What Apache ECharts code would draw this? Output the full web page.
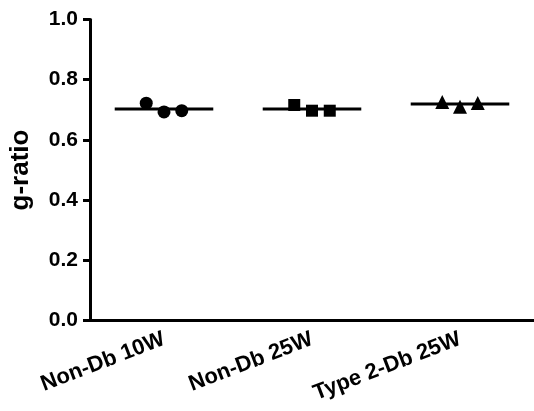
<!DOCTYPE html>
<html>
<head>
<meta charset="utf-8">
<script src="https://cdn.jsdelivr.net/npm/echarts@6/dist/echarts.min.js"></script>
<style>
  html, body { margin: 0; padding: 0; background: #fff; }
  #chart { width: 534px; height: 411px; }
</style>
</head>
<body>
<div id="chart"></div>
<script>
// groups and values
let groups = ['Non-Db 10W', 'Non-Db 25W', 'Type 2-Db 25W'];
let symbols = ['circle', 'rect', 'triangle'];
let symbolSizes = [13, 12, 14];
let nonDb10W = [0.722, 0.693, 0.697];
let nonDb25W = [0.716, 0.697, 0.697];
let type2Db25W = [0.726, 0.710, 0.723];
let means = [0.703, 0.703, 0.719];
// horizontal spread of the dots around each group's center
let jitter = [-0.12, 0, 0.12];

let chartDom = document.getElementById('chart');
let chart = echarts.init(chartDom);

let values = [nonDb10W, nonDb25W, type2Db25W];
let font = '"Liberation Sans", Arial, Helvetica, sans-serif';
let series = [];

values.forEach(function (vals, g) {
    // mean line
    series.push({
        type: 'line',
        xAxisIndex: 1,
        data: [[g + 1 - 0.333, means[g]], [g + 1 + 0.333, means[g]]],
        symbol: 'none',
        lineStyle: { color: '#000', width: 3 },
        z: 2,
        silent: true
    });
    // points
    series.push({
        type: 'scatter',
        xAxisIndex: 1,
        symbol: symbols[g],
        symbolSize: symbolSizes[g],
        itemStyle: { color: '#000', opacity: 1 },
        data: vals.map(function (v, i) { return [g + 1 + jitter[i], v]; }),
        z: 3
    });
});

let option = {
    animation: false,
    grid: {
        left: 89,
        top: 19.5,
        width: 455,
        bottom: 90.5
    },
    xAxis: [
        {
            type: 'category',
            data: groups,
            axisLine: { lineStyle: { color: '#000', width: 3 } },
            axisTick: { alignWithLabel: true, length: 7, lineStyle: { color: '#000', width: 3 } },
            axisLabel: {
                rotate: 21,
                margin: 18,
                color: '#000',
                fontSize: 22,
                fontWeight: 'bold',
                fontFamily: font
            },
            splitLine: { show: false }
        },
        {
            type: 'value',
            min: 0.5,
            max: 3.5,
            show: false
        }
    ],
    yAxis: {
        type: 'value',
        min: 0,
        max: 1,
        interval: 0.2,
        name: 'g-ratio',
        nameLocation: 'middle',
        nameGap: 56,
        nameTextStyle: {
            color: '#000',
            fontSize: 26,
            fontWeight: 'bold',
            fontFamily: font
        },
        axisLine: { show: true, lineStyle: { color: '#000', width: 3 } },
        axisTick: { show: true, length: 7, lineStyle: { color: '#000', width: 3 } },
        axisLabel: {
            margin: 12,
            color: '#000',
            fontSize: 21,
            fontWeight: 'bold',
            fontFamily: font,
            formatter: function (v) { return v.toFixed(1); }
        },
        splitLine: { show: false }
    },
    series: series
};

chart.setOption(option);
</script>
</body>
</html>
